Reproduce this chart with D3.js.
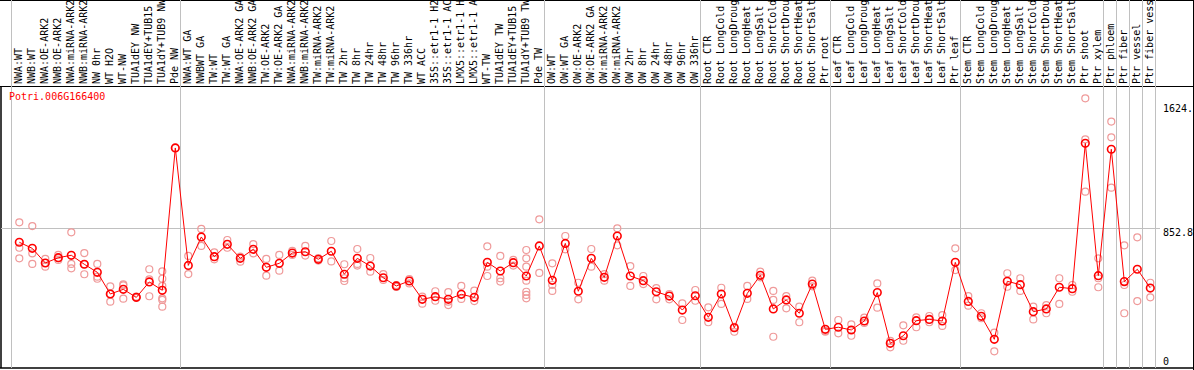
<!DOCTYPE html>
<html>
<head>
<meta charset="utf-8">
<script src="https://cdn.jsdelivr.net/npm/d3@7"></script>
<style>
  body { margin: 0; background: #fff; }
  svg { display: block; }
  text { font-family: "DejaVu Sans Mono", monospace; font-size: 10px; }
</style>
</head>
<body>
<svg id="chart" width="1194" height="370"></svg>
<script>
const geneName = "Potri.006G166400";

const samples = [
  "NWA:WT", "NWB:WT", "NWA:OE-ARK2", "NWB:OE-ARK2", "NWA:miRNA-ARK2", "NWB:miRNA-ARK2",
  "NW 0hr", "WT H2O", "WT-NW", "TUA1dEY NW", "TUA1dEY+TUB15 NW", "TUA1dY+TUB9 NW", "Pde NW",
  "NWA:WT GA", "NWBWT GA", "TW:WT", "TW:WT GA", "NWA:OE-ARK2 GA", "NWB:OE-ARK2 GA",
  "TW:OE-ARK2", "TW:OE-ARK2 GA", "NWA:miRNA-ARK2", "NWB:miRNA-ARK2", "TW:miRNA-ARK2",
  "TW:miRNA-ARK2", "TW 2hr", "TW 8hr", "TW 24hr", "TW 48hr", "TW 96hr", "TW 336hr",
  "WT ACC", "35S::etr1-1 H2O", "35S::etr1-1 ACC", "LMX5::etr1-1 H2O", "LMX5::etr1-1 ACC",
  "WT-TW", "TUA1dEY TW", "TUA1dEY+TUB15 TW", "TUA1dY+TUB9 TW", "Pde TW",
  "OW:WT", "OW:WT GA", "OW:OE-ARK2", "OW:OE-ARK2 GA", "OW:miRNA-ARK2", "OW:miRNA-ARK2",
  "OW 2hr", "OW 8hr", "OW 24hr", "OW 48hr", "OW 96hr", "OW 336hr",
  "Root CTR", "Root LongCold", "Root LongDrought", "Root LongHeat", "Root LongSalt",
  "Root ShortCold", "Root ShortDrought", "Root ShortHeat", "Root ShortSalt", "Ptr root",
  "Leaf CTR", "Leaf LongCold", "Leaf LongDrought", "Leaf LongHeat", "Leaf LongSalt",
  "Leaf ShortCold", "Leaf ShortDrought", "Leaf ShortHeat", "Leaf ShortSalt", "Ptr leaf",
  "Stem CTR", "Stem LongCold", "Stem LongDrought", "Stem LongHeat", "Stem LongSalt",
  "Stem ShortCold", "Stem ShortDrought", "Stem ShortHeat", "Stem ShortSalt",
  "Ptr shoot", "Ptr xylem", "Ptr phloem", "Ptr fiber", "Ptr vessel", "Ptr fiber vessel"
];

const means = [
  764, 726, 635, 668, 683, 627, 577, 442, 471, 421, 517, 465, 1351,
  620, 797, 674, 751, 664, 720, 608, 633, 697, 705, 658, 708, 565, 664, 616, 543, 492, 523,
  409, 425, 409, 440, 421, 639, 585, 637, 554, 741,
  527, 757, 459, 664, 546, 803, 554, 525, 456, 429, 342, 431,
  297, 442, 232, 446, 558, 349, 405, 322, 504, 222,
  235, 218, 274, 451, 135, 182, 276, 284, 274, 639,
  396, 303, 160, 521, 500, 332, 349, 484, 475, 1380, 556,
  1343, 519, 596, 479
];

const replicates = [
  [888, 730, 664], [865, 695, 629], [660, 635, 612], [685, 665, 654], [826, 629, 602],
  [697, 627, 565], [629, 550, 537], [490, 442, 394], [502, 496, 413], [425, 421, 417],
  [596, 533, 428], [583, 537, 492, 415, 405, 363], [1351],
  [679, 566], [847, 741], [701, 658], [778, 730], [675, 643], [753, 695], [660, 556],
  [685, 587], [710, 685], [741, 681], [665, 650], [772, 645], [627, 540, 523],
  [722, 629, 619], [666, 581], [566, 529], [498, 486], [535, 508],
  [425, 382], [459, 400], [454, 394, 373], [492, 411], [463, 398],
  [739, 612, 554], [679, 540, 519], [654, 619], [716, 664, 612, 525, 456, 436, 415], [907, 573],
  [633, 498, 461], [803, 720], [512, 409], [722, 612], [566, 525], [851, 745],
  [616, 492], [554, 504], [479, 409], [442, 409], [384, 280], [467, 400],
  [359, 266], [481, 380], [238, 207], [492, 411], [581, 546], [461, 405, 176],
  [429, 353], [363, 266], [525, 490], [207, 212],
  [280, 197], [253, 182], [295, 262], [508, 357], [110, 150], [247, 151], [297, 235],
  [305, 266], [311, 243], [726, 591],
  [429, 369], [322, 291], [201, 85], [571, 487], [540, 461], [363, 284], [373, 322],
  [540, 380], [498, 456], [1660, 1405, 1079], [664, 540, 484],
  [1515, 1417, 1104], [745, 498, 322], [795, 398], [512, 421]
];

const separators = [0, 13, 41, 53, 63, 73, 84, 85, 86, 87, 88];
const yTicks = [0, 852.8, 1624];
const yTickLabels = ["0", "852.8", "1624."];

const W = 1194, H = 370;
const headerBottom = 86.5, plotBottom = 368;
const svg = d3.select("#chart");

const x = d3.scaleBand()
  .domain(d3.range(samples.length + 1))
  .range([11, 11 + 13 * (samples.length + 1)])
  .paddingInner(0).paddingOuter(0);
const cx = i => x(i) + 8.3;

const y = d3.scaleLinear().domain([0, 852.8]).range([365, 228]);

// borders
svg.append("line").attr("x1", 0).attr("x2", W).attr("y1", 0.5).attr("y2", 0.5)
  .attr("stroke", "#000");
svg.append("line").attr("x1", 0).attr("x2", W).attr("y1", headerBottom).attr("y2", headerBottom)
  .attr("stroke", "#000");
svg.append("line").attr("x1", 0).attr("x2", W).attr("y1", plotBottom).attr("y2", plotBottom)
  .attr("stroke", "#000").attr("stroke-width", 1.5);
svg.append("line").attr("x1", 1).attr("x2", 1).attr("y1", headerBottom).attr("y2", plotBottom)
  .attr("stroke", "#000").attr("stroke-width", 1.5);
svg.append("line").attr("x1", W - 0.5).attr("x2", W - 0.5).attr("y1", 0).attr("y2", H)
  .attr("stroke", "#000");

// vertical group separators
svg.selectAll(".sep")
  .data(separators)
  .join("line")
  .attr("class", "sep")
  .attr("x1", d => x(d) + 0.5)
  .attr("x2", d => x(d) + 0.5)
  .attr("y1", 0)
  .attr("y2", plotBottom)
  .attr("stroke", "#c0c0c0");

// horizontal gridline
svg.append("line")
  .attr("x1", 1).attr("x2", 1160)
  .attr("y1", Math.round(y(852.8)) + 0.5).attr("y2", Math.round(y(852.8)) + 0.5)
  .attr("stroke", "#c0c0c0");

// sample labels
svg.selectAll(".lab")
  .data(samples)
  .join("text")
  .attr("class", "lab")
  .attr("transform", (d, i) => `translate(${cx(i) + 2.6},84) rotate(-90)`)
  .attr("fill", "#000")
  .text(d => d);

// y labels
svg.selectAll(".ylab")
  .data(yTicks)
  .join("text")
  .attr("class", "ylab")
  .attr("x", 1163)
  .attr("y", d => Math.min(y(d) + 7.5, 365))
  .attr("fill", "#000")
  .text((d, i) => yTickLabels[i]);

// title
svg.append("text")
  .attr("x", 9).attr("y", 100)
  .attr("fill", "#ff0000")
  .text(geneName);

// replicate points
const reps = [];
replicates.forEach((r, i) => r.forEach(v => reps.push({ i, v })));
svg.selectAll(".rep")
  .data(reps)
  .join("circle")
  .attr("class", "rep")
  .attr("cx", d => cx(d.i))
  .attr("cy", d => y(d.v))
  .attr("r", 3.5)
  .attr("fill", "none")
  .attr("stroke", "#ef9a9a")
  .attr("stroke-width", 1.2);

// mean line
const line = d3.line().x((d, i) => cx(i)).y(d => y(d));
svg.append("path")
  .datum(means)
  .attr("d", line)
  .attr("fill", "none")
  .attr("stroke", "#ff0000")
  .attr("stroke-width", 1);

svg.selectAll(".mean")
  .data(means)
  .join("circle")
  .attr("class", "mean")
  .attr("cx", (d, i) => cx(i))
  .attr("cy", d => y(d))
  .attr("r", 3.8)
  .attr("fill", "none")
  .attr("stroke", "#ff0000")
  .attr("stroke-width", 1.6);
</script>
</body>
</html>
